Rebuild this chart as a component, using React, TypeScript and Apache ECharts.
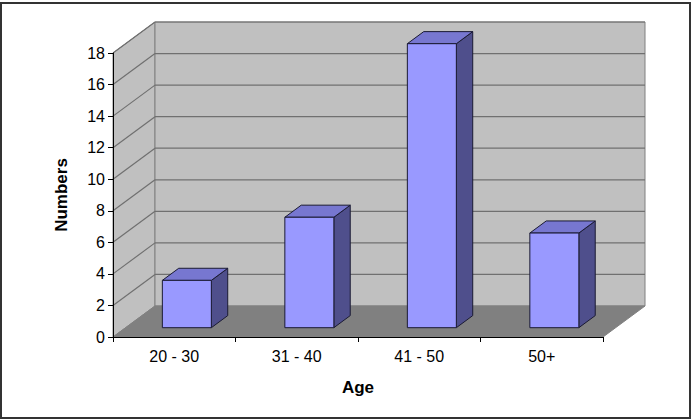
import React, { useEffect, useRef } from "react";
import * as echarts from "echarts";

const CATEGORIES = ["20 - 30", "31 - 40", "41 - 50", "50+"];
const VALUES = [3, 7, 18, 6];
const Y_MIN = 0;
const Y_MAX = 18;
const Y_INTERVAL = 2;
const X_NAME = "Age";
const Y_NAME = "Numbers";

const DX = 42;
const DY = -31;
const FONT = "'Liberation Sans', Arial, sans-serif";

export default function App() {
  const ref = useRef<HTMLDivElement>(null);
  useEffect(() => {
    document.body.style.margin = "0";
    const chart = echarts.init(ref.current!, null, { renderer: "svg" });
    const ticks: number[] = [];
    for (let v = Y_MIN; v <= Y_MAX; v += Y_INTERVAL) ticks.push(v);

    const wallsRender = (params: any, api: any) => {
      const bw = api.size([1, 0])[0];
      const L = api.coord([0, Y_MIN])[0] - bw / 2;
      const R = api.coord([CATEGORIES.length - 1, Y_MIN])[0] + bw / 2;
      const y0 = api.coord([0, Y_MIN])[1];
      const yT = api.coord([0, Y_MAX])[1];
      const children: any[] = [];
      children.push({
        type: "polygon",
        shape: { points: [[L, y0], [L, yT], [L + DX, yT + DY], [L + DX, y0 + DY]] },
        style: { fill: "#c0c0c0", stroke: "#808080", lineWidth: 1 },
      });
      children.push({
        type: "rect",
        shape: { x: L + DX, y: yT + DY, width: R - L, height: y0 - yT },
        style: { fill: "#c0c0c0", stroke: "#808080", lineWidth: 1 },
      });
      children.push({
        type: "polygon",
        shape: { points: [[L, y0], [R, y0], [R + DX, y0 + DY], [L + DX, y0 + DY]] },
        style: { fill: "#808080", stroke: "#808080", lineWidth: 1 },
      });
      ticks.forEach((v) => {
        if (v === Y_MIN) return;
        const y = api.coord([0, v])[1];
        children.push({
          type: "line",
          shape: { x1: L + DX, y1: y + DY, x2: R + DX, y2: y + DY },
          style: { stroke: "#707070", lineWidth: 1.2 },
        });
        children.push({
          type: "line",
          shape: { x1: L, y1: y, x2: L + DX, y2: y + DY },
          style: { stroke: "#707070", lineWidth: 1.2 },
        });
      });
      return { type: "group", children };
    };

    const barRender = (params: any, api: any) => {
      const idx = api.value(0);
      const val = api.value(1);
      const bw = api.size([1, 0])[0];
      const w = bw * 0.4;
      const base = api.coord([idx, Y_MIN]);
      const top = api.coord([idx, val]);
      const fx = DX * 0.3;
      const fy = DY * 0.3;
      const bdx = DX * 0.39;
      const bdy = DY * 0.39;
      const x1 = base[0] + fx - w / 2;
      const x2 = base[0] + fx + w / 2;
      const yb = base[1] + fy;
      const yt = top[1] + fy;
      const stroke = "#1a1a33";
      return {
        type: "group",
        children: [
          {
            type: "polygon",
            shape: { points: [[x2, yt], [x2, yb], [x2 + bdx, yb + bdy], [x2 + bdx, yt + bdy]] },
            style: { fill: "#4f4f8c", stroke, lineWidth: 1 },
          },
          {
            type: "polygon",
            shape: { points: [[x1, yt], [x2, yt], [x2 + bdx, yt + bdy], [x1 + bdx, yt + bdy]] },
            style: { fill: "#7777d0", stroke, lineWidth: 1 },
          },
          {
            type: "rect",
            shape: { x: x1, y: yt, width: x2 - x1, height: yb - yt },
            style: { fill: "#9999ff", stroke, lineWidth: 1 },
          },
        ],
      };
    };

    chart.setOption({
      animation: false,
      grid: { left: 113, right: 92, top: 53, bottom: 83 },
      graphic: [
        {
          type: "rect",
          shape: { x: 1, y: 3, width: 689, height: 415 },
          style: { fill: "none", stroke: "#333333", lineWidth: 2 },
          z: 100,
        },
      ],
      xAxis: {
        type: "category",
        data: CATEGORIES,
        z: 10,
        name: X_NAME,
        nameLocation: "middle",
        nameGap: 42,
        nameTextStyle: { fontFamily: FONT, fontSize: 17, fontWeight: "bold", color: "#000" },
        axisLine: { show: true, lineStyle: { color: "#000", width: 1 } },
        axisTick: { show: true, length: 5, lineStyle: { color: "#000" } },
        axisLabel: { fontFamily: FONT, fontSize: 16, color: "#000", margin: 11 },
        splitLine: { show: false },
      },
      yAxis: {
        type: "value",
        min: Y_MIN,
        max: Y_MAX,
        interval: Y_INTERVAL,
        z: 10,
        name: Y_NAME,
        nameLocation: "middle",
        nameGap: 43,
        nameTextStyle: { fontFamily: FONT, fontSize: 17, fontWeight: "bold", color: "#000" },
        axisLine: { show: true, lineStyle: { color: "#000", width: 1 } },
        axisTick: { show: true, length: 5, lineStyle: { color: "#000" } },
        axisLabel: { fontFamily: FONT, fontSize: 16, color: "#000", margin: 8 },
        splitLine: { show: false },
      },
      series: [
        {
          type: "custom",
          z: 1,
          silent: true,
          clip: false,
          renderItem: wallsRender,
          data: [[0, 0]],
        },
        {
          type: "custom",
          z: 3,
          clip: false,
          renderItem: barRender,
          encode: { x: 0, y: 1 },
          data: VALUES.map((v, i) => [i, v]),
        },
      ],
    });
    return () => chart.dispose();
  }, []);
  return <div ref={ref} style={{ width: 695, height: 420 }} />;
}
